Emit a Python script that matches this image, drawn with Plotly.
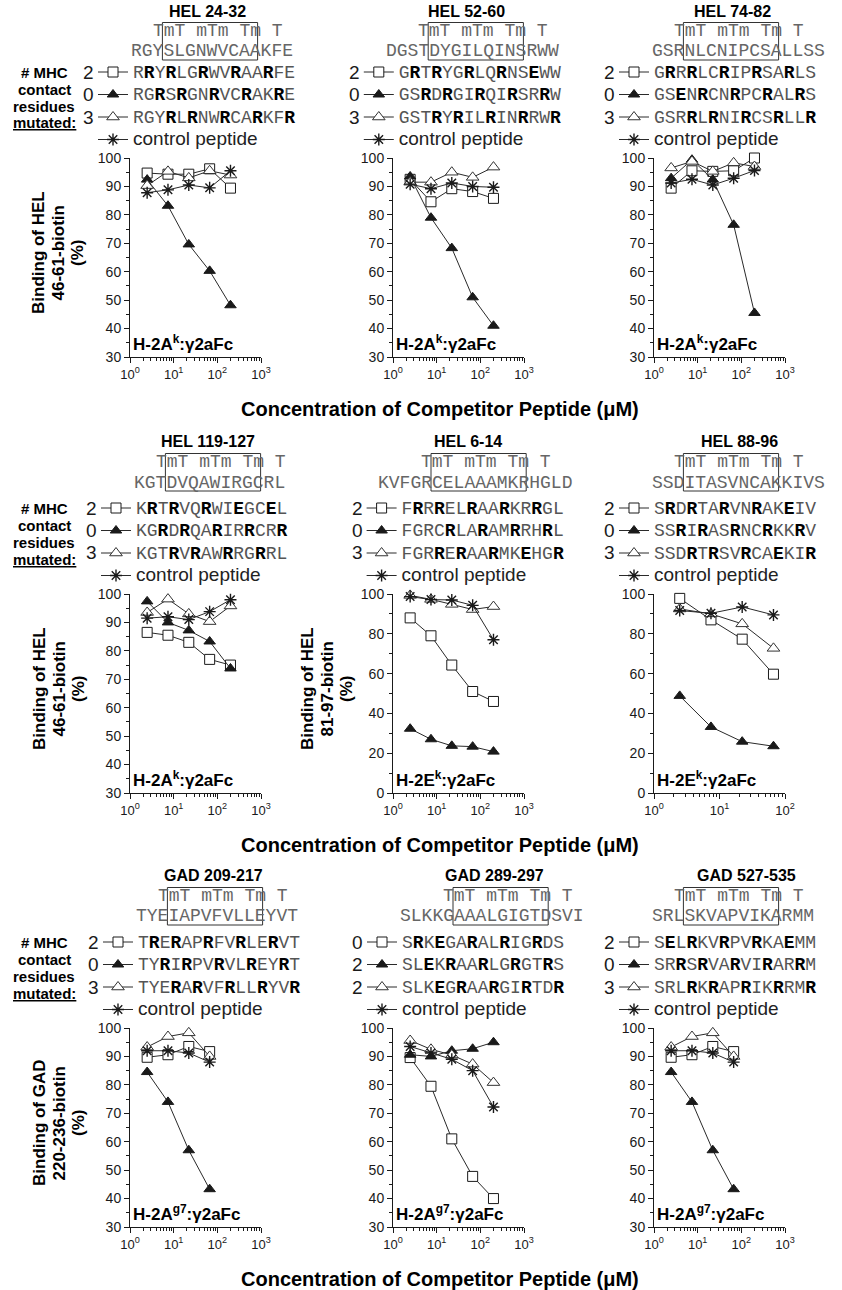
import plotly.graph_objects as go

W, H = 842, 1290

# ---------------- data ----------------
conc = [2.47, 7.41, 22.2, 66.7, 200.0]  # competitor peptide (uM)

titles = ["HEL 24-32", "HEL 52-60", "HEL 74-82",
          "HEL 119-127", "HEL 6-14", "HEL 88-96",
          "GAD 209-217", "GAD 289-297", "GAD 527-535"]
wt_prefix = ["RGY", "DGST", "GSR", "KGT", "KVFGR", "SSD", "TYE", "SLKKG", "SRL"]
wt_core = ["SLGNWVCAA", "DYGILQINS", "NLCNIPCSA", "DVQAWIRGC", "CELAAAMKR",
           "ITASVNCAK", "IAPVFVLLE", "AAALGIGTD", "SKVAPVIKA"]
wt_suffix = ["KFE", "RWW", "LLSS", "RL", "HGLD", "KIVS", "YVT", "SVI", "RMM"]
mut_offset = [0, 1, 0, 0, 2, 0, 0, 0, 0]

seq_sq = ["RRYRLGRWVRAARFE", "GRTRYGRLQRNSEWW", "GRRRLCRIPRSARLS",
          "KRTRVQRWIEGCEL", "FRRRELRAARKRRGL", "SRDRTARVNRAKEIV",
          "TRERAPRFVRLERVT", "SRKEGARALRIGRDS", "SELRKVRPVRKAEMM"]
seq_ftri = ["RGRSRGNRVCRAKRE", "GSRDRGIRQIRSRRW", "GSENRCNRPCRALRS",
            "KGRDRQARIRRCRR", "FGRCRLARAMRRHRL", "SSRIRASRNCRKKRV",
            "TYRIRPVRVLREYRT", "SLEKRAARLGRGTRS", "SRRSRVARVIRARRM"]
seq_otri = ["RGYRLRNWRCARKFR", "GSTRYRILRINRRWR", "GSRRLRNIRCSRLLR",
            "KGTRVRAWRRGRRL", "FGRRERAARMKEHGR", "SSDRTRSVRCAEKIR",
            "TYERARVFRLLRYVR", "SLKEGRAARGIRTDR", "SRLRKRAPRIKRRMR"]
n_sq = ["2", "2", "2", "2", "2", "2", "2", "0", "2"]
n_ftri = ["0", "0", "0", "0", "0", "0", "0", "2", "0"]
n_otri = ["3", "3", "3", "3", "3", "3", "3", "2", "3"]
ctrl_label = "control peptide"

y_sq = [[94.7, 94.3, 94.3, 96.2, 89.4],
        [92.5, 84.6, 89.2, 88.2, 85.8],
        [89.4, 95.5, 95.3, 95.5, 100.0],
        [86.5, 85.5, 83.0, 77.0, 75.0],
        [88.0, 79.0, 64.3, 51.0, 46.0],
        [97.8, 87.0, 77.3, 59.7],
        [89.7, 90.6, 93.5, 91.7],
        [89.6, 79.5, 61.0, 47.8, 40.0],
        [89.7, 90.6, 93.5, 91.7]]
y_ftri = [[92.4, 83.2, 69.6, 60.3, 48.2],
          [93.5, 79.0, 68.3, 51.0, 41.0],
          [92.9, 99.4, 92.4, 76.5, 45.5],
          [97.4, 90.0, 87.2, 83.3, 73.8],
          [32.3, 27.0, 23.7, 23.3, 20.8],
          [48.8, 33.2, 25.8, 23.5],
          [84.5, 74.0, 57.0, 43.3],
          [90.6, 90.0, 92.0, 92.7, 95.0],
          [84.5, 74.0, 57.0, 43.3]]
y_otri = [[90.3, 95.3, 93.0, 95.5, 94.0],
          [91.5, 91.5, 95.0, 93.2, 96.8],
          [96.5, 98.8, 95.3, 98.3, 97.0],
          [93.5, 98.2, 93.0, 90.3, 95.8],
          [99.3, 97.3, 94.8, 92.2, 93.7],
          [92.5, 90.0, 85.0, 72.7],
          [93.3, 97.0, 98.3, 90.0],
          [95.6, 92.5, 90.5, 87.3, 80.8],
          [93.3, 97.0, 98.3, 90.0]]
y_ctrl = [[87.8, 88.8, 90.5, 89.5, 95.5],
          [90.8, 89.2, 91.2, 90.0, 89.7],
          [91.2, 92.5, 90.5, 92.9, 95.6],
          [91.5, 92.0, 91.0, 93.8, 98.0],
          [98.7, 97.2, 97.0, 94.3, 77.0],
          [91.7, 90.3, 93.5, 89.5],
          [92.0, 92.0, 91.2, 88.0],
          [93.5, 91.2, 89.0, 85.0, 72.2],
          [92.0, 92.0, 91.2, 88.0]]

y_ranges = [[30, 100]] * 4 + [[0, 100], [0, 100]] + [[30, 100]] * 3
x_decades = [3, 3, 3, 3, 3, 2, 3, 3, 3]
mhc_labels = ["H-2A<sup>k</sup>:γ2aFc"] * 4 + ["H-2E<sup>k</sup>:γ2aFc"] * 2 + ["H-2A<sup>g7</sup>:γ2aFc"] * 3
ytitles = {0: ["Binding of HEL", "46-61-biotin", "(%)"],
           3: ["Binding of HEL", "46-61-biotin", "(%)"],
           4: ["Binding of HEL", "81-97-biotin", "(%)"],
           6: ["Binding of GAD", "220-236-biotin", "(%)"]}
xtitle = "Concentration of Competitor Peptide (μM)"
mhc_block = ["# MHC", "contact", "residues", "<u>mutated:</u>"]
contact_line = "TmT mTm Tm T"

# ---------------- layout geometry (pixels) ----------------
ROW_TOP = [158, 594, 1028]
PLOT_H = 199
COL_X0 = [130, 393, 654]
PLOT_W = 131
WT_X = [129, 384, 650, 132, 376, 650, 134, 398, 650]
TITLE_X = [207, 467, 732, 208, 468, 739, 213, 495, 746]
# header offsets above plot top: title, contact line, wild-type, box top, box bottom
HDR = [(-146.5, -127.0, -106.5, -135.5, -98.0),
       (-152.5, -132.0, -111.5, -140.5, -103.0),
       (-152.5, -132.0, -111.5, -140.5, -103.0)]
CW = 10.8          # monospace char width at 18px
SEQ_FONT = "Liberation Mono, Courier New, monospace"
SANS = "Arial, Liberation Sans, sans-serif"
GRAY = "#555555"
WT_GRAY = "#666666"
INK = "#1a1a1a"


def px(x):
    return x / W


def py(y):
    return 1 - y / H


def seq_html(mut, wt, off):
    out = []
    for j, c in enumerate(mut):
        w = wt[off + j] if off + j < len(wt) else ""
        if c != w:
            out.append('<b style="color:#000">%s</b>' % c)
        else:
            out.append(c)
    return '<span style="font-size:18px">' + "".join(out) + "</span>"


fig = go.Figure()
annotations = []
shapes = []
layout = {}

series_style = [
    dict(symbol="square", size=10, color="white", line=dict(color=INK, width=1)),
    dict(symbol="triangle-up", size=10, color=INK, line=dict(color=INK, width=1)),
    dict(symbol="triangle-up", size=11, color="white", line=dict(color="#333", width=1)),
    dict(symbol="asterisk-open", size=10, color=INK, line=dict(color=INK, width=1.4)),
]

for i in range(9):
    r, c = divmod(i, 3)
    top = ROW_TOP[r]
    x0 = COL_X0[c]
    ax = "" if i == 0 else str(i + 1)
    xa, ya = "x" + ax, "y" + ax
    leg = "legend" + ax
    wt = wt_prefix[i] + wt_core[i] + wt_suffix[i]
    off = mut_offset[i]
    xs = conc[:len(y_sq[i])]

    names = [seq_html(seq_sq[i], wt, off), seq_html(seq_ftri[i], wt, off),
             seq_html(seq_otri[i], wt, off),
             '<span style="font-family:Arial, Liberation Sans;font-size:19px;color:#222">%s</span>' % ctrl_label]
    ys = [y_sq[i], y_ftri[i], y_otri[i], y_ctrl[i]]
    for k in range(4):
        fig.add_trace(go.Scatter(
            x=xs, y=ys[k], mode="lines+markers", name=names[k],
            xaxis=xa, yaxis=ya, legend=leg, showlegend=True,
            line=dict(color="#2a2a2a", width=1),
            marker=series_style[k], cliponaxis=False))

    # axes
    dec = x_decades[i]
    tv = [10 ** d for d in range(dec + 1)]
    tt = ["10<sup>%d</sup>" % d for d in range(dec + 1)]
    minor_vals = [m * 10 ** d for d in range(dec) for m in range(2, 10)]
    layout["xaxis" + ax] = dict(
        type="log", range=[0, dec], domain=[px(x0), px(x0 + PLOT_W)], anchor=ya,
        showline=True, linecolor=INK, linewidth=1, ticks="outside", ticklen=5,
        tickwidth=1, tickcolor=INK, tickmode="array", tickvals=tv, ticktext=tt,
        tickfont=dict(family=SANS, size=13, color=INK), showgrid=False, zeroline=False,
        minor=dict(ticks="outside", ticklen=3, tickwidth=1, tickcolor=INK,
                   tickmode="array", tickvals=minor_vals, showgrid=False))
    yr = y_ranges[i]
    dt = 10 if yr[0] == 30 else 20
    layout["yaxis" + ax] = dict(
        range=yr, domain=[py(top + PLOT_H), py(top)], anchor=xa,
        showline=True, linecolor=INK, linewidth=1, ticks="outside", ticklen=5,
        tickwidth=1, tickcolor=INK, dtick=dt, tick0=0,
        tickfont=dict(family=SANS, size=14, color=INK), showgrid=False, zeroline=False,
        minor=dict(ticks="outside", ticklen=3, tickwidth=1, tickcolor=INK,
                   dtick=dt / 2, showgrid=False))

    # legend (mutant peptides)
    leg_x = WT_X[i] + off * CW + 4 - 40
    leg_top = top - 102.25
    layout[leg] = dict(x=px(leg_x), y=py(leg_top), xanchor="left", yanchor="top",
                       bgcolor="rgba(0,0,0,0)", borderwidth=0,
                       font=dict(family=SEQ_FONT, size=15, color=GRAY),
                       traceorder="normal", itemclick=False, itemdoubleclick=False)
    nums = [n_sq[i], n_ftri[i], n_otri[i]]
    for k in range(3):
        annotations.append(dict(
            x=px(leg_x + 3), y=py(top - 86 + k * 22.5), xref="paper", yref="paper",
            text=nums[k], showarrow=False, xanchor="right", yanchor="middle",
            font=dict(family=SANS, size=19, color=INK)))

    # title, TCR/MHC contact line, wild-type sequence
    t_y, c_y, w_y, b0, b1 = HDR[r]
    core_x = WT_X[i] + len(wt_prefix[i]) * CW
    annotations.append(dict(
        x=px(TITLE_X[i]), y=py(top + t_y), xref="paper", yref="paper",
        text="<b>%s</b>" % titles[i], showarrow=False, xanchor="center", yanchor="middle",
        font=dict(family=SANS, size=16, color="#000")))
    annotations.append(dict(
        x=px(core_x - CW), y=py(top + c_y), xref="paper", yref="paper",
        text=contact_line, showarrow=False, xanchor="left", yanchor="middle",
        font=dict(family=SEQ_FONT, size=18, color=WT_GRAY)))
    annotations.append(dict(
        x=px(WT_X[i]), y=py(top + w_y), xref="paper", yref="paper",
        text=wt, showarrow=False, xanchor="left", yanchor="middle",
        font=dict(family=SEQ_FONT, size=18, color=WT_GRAY)))
    shapes.append(dict(type="rect", xref="paper", yref="paper",
                       x0=px(core_x + 1), x1=px(core_x + 9 * CW - 1),
                       y0=py(top + b0), y1=py(top + b1),
                       line=dict(color="#333", width=1)))

    # MHC label inside plot
    annotations.append(dict(
        x=px(x0 + 1), y=py(top + PLOT_H - 14), xref="paper", yref="paper",
        text="<b>%s</b>" % mhc_labels[i], showarrow=False, xanchor="left", yanchor="middle",
        font=dict(family=SANS, size=17, color="#000")))

    # y-axis titles
    if i in ytitles:
        lines = ytitles[i]
        base_x = 39 if c == 0 else 307
        for L, txt in enumerate(lines):
            annotations.append(dict(
                x=px(base_x + L * 19.5), y=py(top + 95), xref="paper", yref="paper",
                text="<b>%s</b>" % txt, showarrow=False, textangle=-90,
                xanchor="center", yanchor="middle",
                font=dict(family=SANS, size=17, color="#000")))

    # "# MHC contact residues mutated:" block
    if c == 0:
        for L, txt in enumerate(mhc_block):
            annotations.append(dict(
                x=px(44), y=py(top - 86 + L * 17), xref="paper", yref="paper",
                text="<b>%s</b>" % txt, showarrow=False, xanchor="center", yanchor="middle",
                font=dict(family=SANS, size=15, color="#000")))

# x-axis titles per row
for r in range(3):
    annotations.append(dict(
        x=px(440), y=py(ROW_TOP[r] + PLOT_H + 52), xref="paper", yref="paper",
        text="<b>%s</b>" % xtitle, showarrow=False, xanchor="center", yanchor="middle",
        font=dict(family=SANS, size=20, color="#000")))

fig.update_layout(
    width=W, height=H, margin=dict(l=0, r=0, t=0, b=0, autoexpand=False),
    paper_bgcolor="white", plot_bgcolor="white",
    annotations=annotations, shapes=shapes, **layout)

fig.write_html("out.html")
